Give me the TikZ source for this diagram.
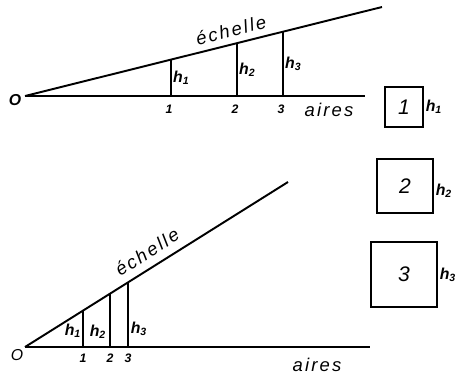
\documentclass[tikz,border=0pt]{standalone}
\usepackage{fontspec}
\setmainfont{Liberation Sans}
\newfontfamily\lettres[LetterSpace=12]{Liberation Sans}

% label h with index
\newcommand{\hlab}[1]{\textit{h}\textsubscript{\itshape #1}}

\begin{document}
\begin{tikzpicture}[
    x=0.02cm, y=-0.02cm,
    every node/.style={font=\itshape, inner sep=1pt},
    trait/.style={line width=1.1pt},
    fin/.style={line width=0.7pt},
    chiffre/.style={font=\bfseries\itshape\fontsize{7}{8}\selectfont},
    mot/.style={font=\lettres\itshape\fontsize{10.5}{12}\selectfont},
    hauteur/.style={font=\bfseries\itshape\fontsize{9}{10}\selectfont},
    carre/.style={draw, line width=0.8pt, inner sep=0pt,
        font=\itshape\fontsize{12}{14}\selectfont}
]
\useasboundingbox (0,0) rectangle (460,380);

% === Top figure ===
\def\Oy{96}
\def\pente{0.2493}
\draw[trait] (25,\Oy) -- (365,\Oy);
\draw[trait] (25,\Oy) -- (382,7);
\node[font=\bfseries\itshape\fontsize{9}{10}\selectfont] (O1) at (15,100) {O};

\foreach \x/\n in {171/1,237/2,283/3} {
    \pgfmathsetmacro{\ytop}{\Oy-(\x-25)*\pente}
    \draw[fin] (\x,\Oy) -- (\x,\ytop);
    \node[chiffre] (a\n) at (\x-2,109) {\n};
    \node[hauteur, right] (h\n) at (\x,{(\Oy+\ytop)/2}) {\hlab{\n}};
}

\node[mot, rotate=14] (echelle1) at (231,30) {échelle};
\node[mot] (aires1) at (329,110) {aires};

% === Squares ===
\node[carre, minimum width=38*0.02cm, minimum height=40*0.02cm]
    (carre1) at (404,107) {1};
\node[carre, minimum width=56*0.02cm, minimum height=54*0.02cm]
    (carre2) at (405,186) {2};
\node[carre, minimum width=66*0.02cm, minimum height=65*0.02cm]
    (carre3) at (404,274.5) {3};
\node[hauteur, right] (k1) at (carre1.east) {\hlab{1}};
\node[hauteur, right] (k2) at ([yshift=-5*0.02cm]carre2.east) {\hlab{2}};
\node[hauteur, right] (k3) at (carre3.east) {\hlab{3}};

% === Bottom figure ===
\def\Py{347}
\def\raide{0.6274}
\draw[trait] (25,\Py) -- (370,\Py);
\draw[trait] (25,\Py) -- (288,182);
\node[font=\itshape\fontsize{9}{10}\selectfont] (O2) at (17,355) {O};

\foreach \x/\n in {83/1,110/2,128/3} {
    \pgfmathsetmacro{\ytop}{\Py-(\x-25)*\raide}
    \draw[fin] (\x,\Py) -- (\x,\ytop);
    \node[chiffre] (b\n) at (\x,358) {\n};
}
\node[hauteur] (g1) at (73,331) {\hlab{1}};
\node[hauteur] (g2) at (98,332) {\hlab{2}};
\node[hauteur] (g3) at (139,329) {\hlab{3}};

\node[mot, rotate=32.4] (echelle2) at (147,252) {échelle};
\node[mot] (aires2) at (317,365) {aires};

\end{tikzpicture}
\end{document}
